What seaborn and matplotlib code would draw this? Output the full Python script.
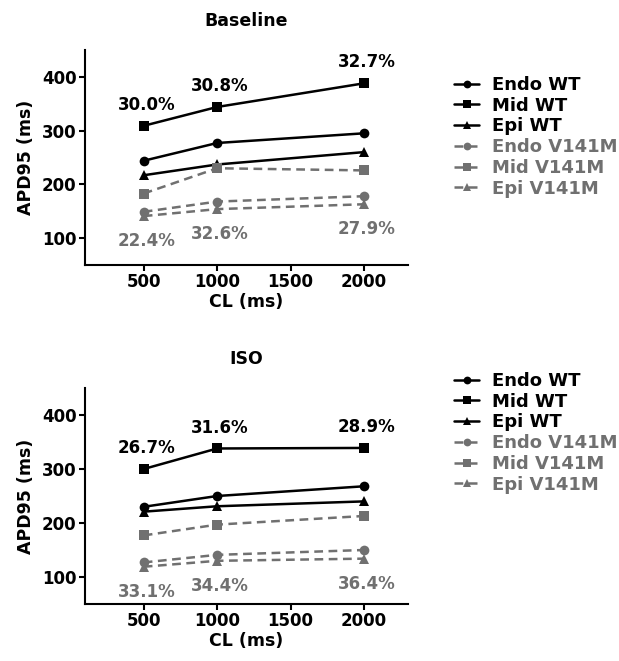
import pandas as pd
import seaborn as sns
import matplotlib.pyplot as plt

# cycle lengths (ms)
cl = [500, 1000, 2000]
groups = ["Endo WT", "Mid WT", "Epi WT", "Endo V141M", "Mid V141M", "Epi V141M"]

# APD95 values (ms)
base_endo_wt = [244, 277, 295]
base_mid_wt = [309, 344, 388]
base_epi_wt = [217, 237, 260]
base_endo_mut = [149, 168, 178]
base_mid_mut = [183, 230, 226]
base_epi_mut = [141, 154, 163]

iso_endo_wt = [230, 250, 268]
iso_mid_wt = [300, 338, 339]
iso_epi_wt = [221, 231, 240]
iso_endo_mut = [127, 141, 150]
iso_mid_mut = [177, 197, 213]
iso_epi_mut = [119, 130, 134]

# transmural dispersion labels
base_wt_pct = ["30.0%", "30.8%", "32.7%"]
base_mut_pct = ["22.4%", "32.6%", "27.9%"]
iso_wt_pct = ["26.7%", "31.6%", "28.9%"]
iso_mut_pct = ["33.1%", "34.4%", "36.4%"]

GRAY = "#707070"
colors = {g: ("black" if "WT" in g else GRAY) for g in groups}
markers = {g: m for g, m in zip(groups, ["o", "s", "^"] * 2)}
dashes = {g: ("" if "WT" in g else (3.5, 2.2)) for g in groups}


def make_df(series):
    rows = []
    for g, vals in zip(groups, series):
        for x, y in zip(cl, vals):
            rows.append({"CL": x, "APD": y, "group": g})
    return pd.DataFrame(rows)


panels = [
    ("Baseline",
     [base_endo_wt, base_mid_wt, base_epi_wt, base_endo_mut, base_mid_mut, base_epi_mut],
     base_wt_pct, base_mut_pct),
    ("ISO",
     [iso_endo_wt, iso_mid_wt, iso_epi_wt, iso_endo_mut, iso_mid_mut, iso_epi_mut],
     iso_wt_pct, iso_mut_pct),
]

sns.set_theme(style="ticks", rc={"text.color": "black", "axes.labelcolor": "black",
                                 "xtick.color": "black", "ytick.color": "black",
                                 "axes.edgecolor": "black"})
plt.rcParams["font.family"] = ["DejaVu Sans"]
plt.rcParams["font.weight"] = "bold"

W, H = 619, 661
fig = plt.figure(figsize=(W / 100, H / 100), dpi=100)

ax_boxes = [(85, 50, 408, 265), (85, 388, 408, 604)]
legend_tops = [76, 372]

for (title, series, wt_pct, mut_pct), (l, t, r, b), ltop in zip(panels, ax_boxes, legend_tops):
    ax = fig.add_axes([l / W, 1 - b / H, (r - l) / W, (b - t) / H])
    df = make_df(series)
    sns.lineplot(data=df, x="CL", y="APD", hue="group", style="group",
                 hue_order=groups, style_order=groups, palette=colors,
                 markers=markers, dashes=dashes, markersize=7,
                 markeredgewidth=0, linewidth=1.8, ax=ax)

    # percentage labels above Mid WT and below Epi V141M
    for x, y, s in zip(cl, series[1], wt_pct):
        ax.annotate(s, (x, y), xytext=(2, 15), textcoords="offset points",
                    ha="center", va="center", fontsize=12, fontweight="bold",
                    color="black")
    for x, y, s in zip(cl, series[5], mut_pct):
        ax.annotate(s, (x, y), xytext=(2, -18), textcoords="offset points",
                    ha="center", va="center", fontsize=12, fontweight="bold",
                    color=GRAY)

    ax.set_xlim(100, 2300)
    ax.set_ylim(50, 450)
    ax.set_xticks([500, 1000, 1500, 2000])
    ax.set_yticks([100, 200, 300, 400])
    ax.set_xlabel("CL (ms)", fontsize=12.5, fontweight="bold", labelpad=1)
    ax.set_ylabel("APD95 (ms)", fontsize=12.5, fontweight="bold", labelpad=5)
    ax.set_title(title, fontsize=12.5, fontweight="bold", pad=17, color="black")
    ax.tick_params(axis="both", labelsize=12, width=1.5, length=4, pad=2,
                   color="black", labelcolor="black")
    for lab in ax.get_xticklabels() + ax.get_yticklabels():
        lab.set_fontweight("bold")
    for sp in ["left", "bottom"]:
        ax.spines[sp].set_linewidth(1.5)
        ax.spines[sp].set_color("black")
    sns.despine(ax=ax)

    old = ax.get_legend()
    handles = old.legend_handles
    labels = [tx.get_text() for tx in old.get_texts()]
    old.remove()
    leg = ax.legend(handles, labels, loc="upper left",
                    bbox_to_anchor=(454 / W, 1 - ltop / H),
                    bbox_transform=fig.transFigure, frameon=False,
                    fontsize=13, handlelength=1.4, handletextpad=0.7,
                    labelspacing=0.15, borderpad=0, borderaxespad=0,
                    markerscale=0.8)
    for tx in leg.get_texts():
        tx.set_fontweight("bold")
        tx.set_color(colors[tx.get_text()])

fig.savefig("out.png", dpi=100)
